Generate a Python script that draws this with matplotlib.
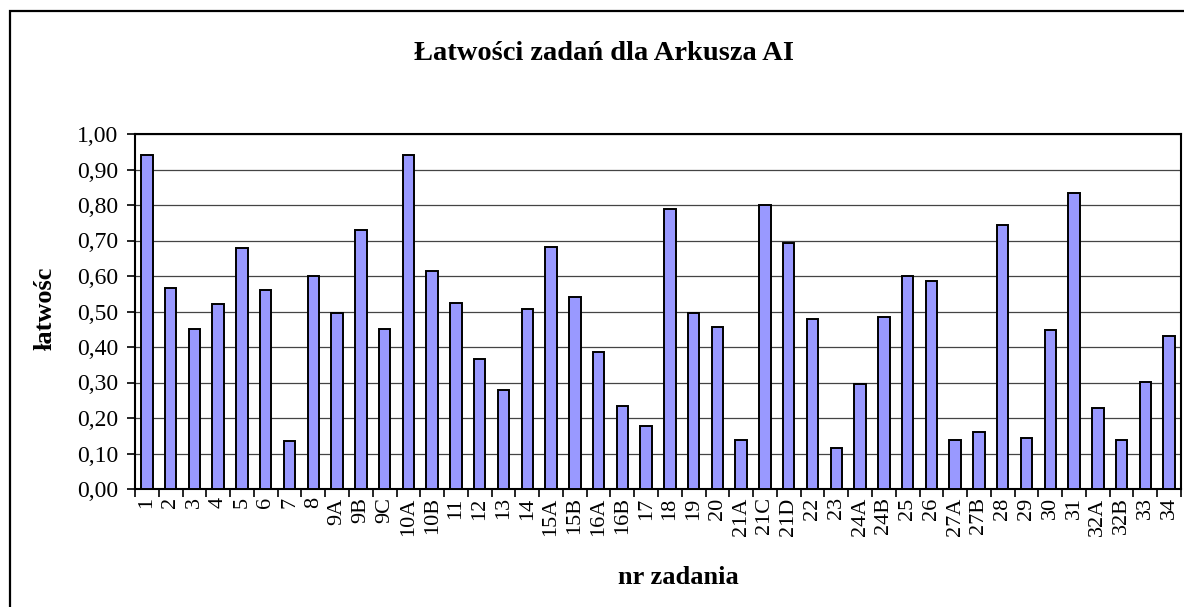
import matplotlib
matplotlib.use("Agg")
import matplotlib.pyplot as plt
from matplotlib.patches import Rectangle
import numpy as np

plt.rcParams['font.family'] = ['Liberation Serif', 'DejaVu Serif']

categories = ["1", "2", "3", "4", "5", "6", "7", "8", "9A", "9B", "9C", "10A", "10B",
              "11", "12", "13", "14", "15A", "15B", "16A", "16B", "17", "18", "19", "20",
              "21A", "21C", "21D", "22", "23", "24A", "24B", "25", "26", "27A", "27B",
              "28", "29", "30", "31", "32A", "32B", "33", "34"]
values = [0.94, 0.565, 0.45, 0.52, 0.68, 0.56, 0.135, 0.60, 0.495, 0.73, 0.45, 0.94, 0.615,
          0.525, 0.365, 0.28, 0.507, 0.683, 0.542, 0.386, 0.235, 0.178, 0.789, 0.497, 0.457,
          0.139, 0.799, 0.693, 0.48, 0.116, 0.295, 0.485, 0.599, 0.587, 0.139, 0.161,
          0.744, 0.145, 0.447, 0.834, 0.229, 0.139, 0.301, 0.43]
yticks = [0.0, 0.1, 0.2, 0.3, 0.4, 0.5, 0.6, 0.7, 0.8, 0.9, 1.0]
title = "Łatwości zadań dla Arkusza AI"
xlabel = "nr zadania"
ylabel = "łatwośc"

W, H = 1184, 607
fig = plt.figure(figsize=(W / 100, H / 100), dpi=100)

# outer chart border (extends past the right and bottom edges)
fig.patches.append(Rectangle((10 / W, 0 - 20 / H), (W + 20) / W, (H - 11 + 20) / H,
                             transform=fig.transFigure, fill=False,
                             edgecolor='black', linewidth=1.6, zorder=0))

left, right, top, bottom = 135, 1181, 134, 489
ax = fig.add_axes([left / W, 1 - bottom / H, (right - left) / W, (bottom - top) / H])

x = np.arange(len(categories))
ax.bar(x, values, width=0.48, color='#9999FF', edgecolor='black', linewidth=1.4, zorder=3)

ax.set_xlim(-0.5, len(categories) - 0.5)
ax.set_ylim(0, 1.0)
ax.set_yticks(yticks)
ax.set_yticklabels([f"{v:.2f}".replace('.', ',') for v in yticks], fontsize=17)
ax.yaxis.grid(True, color='#444444', linewidth=0.9, zorder=0)
ax.set_axisbelow(True)

ax.set_xticks(x)
ax.set_xticklabels(categories, rotation=90, fontsize=16)
ax.tick_params(axis='x', length=0, pad=6)
ax.set_xticks(np.arange(-0.5, len(categories), 1.0), minor=True)
ax.tick_params(axis='x', which='minor', length=6, width=1.2, direction='out')
ax.tick_params(axis='y', length=6, width=1.2, direction='out', pad=6)

for s in ax.spines.values():
    s.set_linewidth(1.5)
    s.set_color('black')

fig.text(604 / W, 1 - 53 / H, title, ha='center', va='center', fontsize=20.5, fontweight='bold')
fig.text(678 / W, 1 - 577 / H, xlabel, ha='center', va='center',
         fontsize=19, fontweight='bold')
fig.text(45 / W, 1 - 308 / H, ylabel, ha='center', va='center', rotation=90,
         fontsize=19, fontweight='bold')

fig.savefig("out.png", dpi=100)
